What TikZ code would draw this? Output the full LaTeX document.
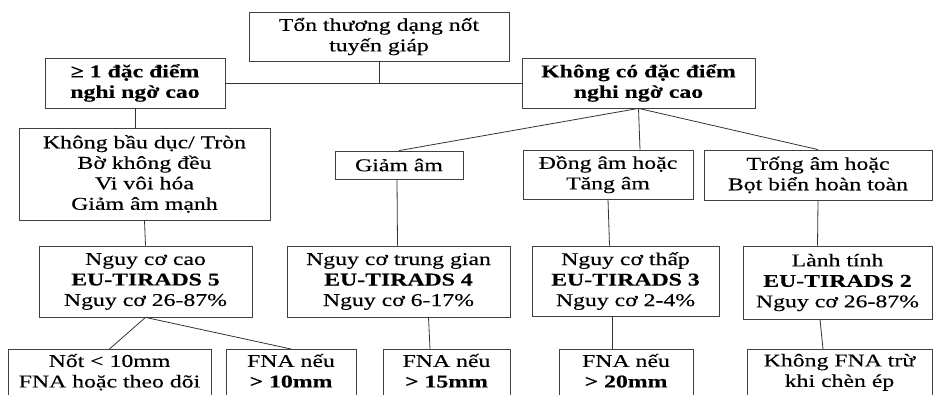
\documentclass[tikz,border=0pt]{standalone}
\usepackage{fontspec}
\setmainfont{Liberation Serif}[FakeStretch=1.32,FakeBold=0.3]
\begin{document}
\begin{tikzpicture}[x=1pt,y=-1pt]
\tikzset{
  box/.style={draw=black!75, line width=0.8pt, fill=white, align=center, inner sep=0pt,
              font=\fontsize{18}{20.5}\selectfont},
  bbox/.style={box, font=\fontsize{18}{20.5}\selectfont\bfseries},
  openbox/.style={box, anchor=north, inner ysep=4.5pt, text depth=40pt},
  link/.style={draw=black!80, line width=0.8pt},
}
\clip (0,0) rectangle (933,395);
\fill[white] (0,0) rectangle (933,395);

% level 0
\node[box, minimum width=260, minimum height=49] (top) at (379,36.5) {Tổn thương dạng nốt\\tuyến giáp};
% level 1
\node[bbox, minimum width=180, minimum height=50] (L1) at (135,83) {≥ 1 đặc điểm\\nghi ngờ cao};
\node[bbox, minimum width=233, minimum height=50] (R1) at (638.5,83) {Không có đặc điểm\\nghi ngờ cao};
% level 2
\node[box, minimum width=251, minimum height=92] (L2) at (144.5,174) {Không bầu dục/ Tròn\\Bờ không đều\\Vi vôi hóa\\Giảm âm mạnh};
\node[box, minimum width=128, minimum height=28] (M2) at (399,165) {Giảm âm};
\node[box, minimum width=170, minimum height=49] (N2) at (608,174.5) {Đồng âm hoặc\\Tăng âm};
\node[box, minimum width=228, minimum height=50] (P2) at (818,175) {Trống âm hoặc\\Bọt biển hoàn toàn};
% level 3
\node[box, minimum width=213, minimum height=71] (L3) at (145.5,281.5) {Nguy cơ cao\\\textbf{EU-TIRADS 5}\\Nguy cơ 26-87\%};
\node[box, minimum width=223, minimum height=71] (M3) at (398.5,281.5) {Nguy cơ trung gian\\\textbf{EU-TIRADS 4}\\Nguy cơ 6-17\%};
\node[box, minimum width=187, minimum height=70] (N3) at (625.5,281) {Nguy cơ thấp\\\textbf{EU-TIRADS 3}\\Nguy cơ 2-4\%};
\node[box, minimum width=189, minimum height=73] (P3) at (837.5,282.5) {Lành tính\\\textbf{EU-TIRADS 2}\\Nguy cơ 26-87\%};
% level 4
\node[openbox, minimum width=203] (L4a) at (109.5,349) {Nốt < 10mm\\FNA hoặc theo dõi};
\node[openbox, minimum width=130] (L4b) at (291,349) {FNA nếu\\\textbf{> 10mm}};
\node[openbox, minimum width=127] (M4) at (446.5,349) {FNA nếu\\\textbf{> 15mm}};
\node[openbox, minimum width=134] (N4) at (626,349) {FNA nếu\\\textbf{> 20mm}};
\node[openbox, minimum width=185] (P4) at (839.5,349) {Không FNA trừ\\khi chèn ép};

% connectors
\draw[link] (top.south) -- (top.south |- L1.east);
\draw[link] (L1.east) -- (R1.west);
\draw[link] (L1.south) -- (L1.south |- L2.north);
\draw[link] (L2.south) -- (L3.north);
\draw[link] (L3.south) -- (L4a.north);
\draw[link] (L3.south) -- (L4b.north);
\draw[link] (R1.south) -- (M2.north);
\draw[link] (R1.south) -- ([xshift=32pt]N2.north);
\draw[link] (R1.south) -- (P2.north);
\draw[link] ([xshift=-2pt]M2.south) -- ([xshift=-1.5pt]M2.south |- M3.north);
\draw[link] (N2.south) -- ([xshift=-16pt]N3.north);
\draw[link] (P2.south) -- ([xshift=-20pt]P3.north);
\draw[link] ([xshift=30pt]M3.south) -- ([xshift=-16.5pt]M4.north);
\draw[link] ([xshift=-13.5pt]N3.south) -- ([xshift=-14pt]N4.north);
\draw[link] ([xshift=-17.5pt]P3.south) -- ([xshift=-16.5pt]P4.north);
\end{tikzpicture}
\end{document}
